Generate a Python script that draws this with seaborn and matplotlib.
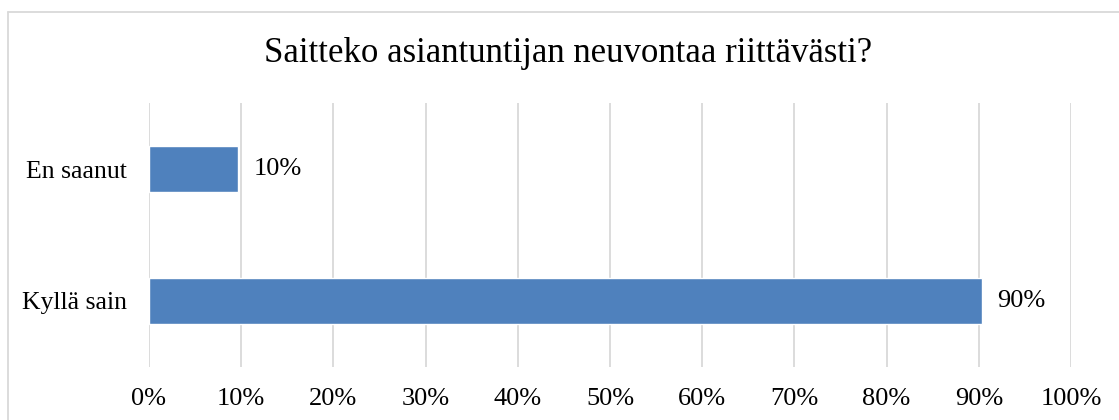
import seaborn as sns
import pandas as pd
import matplotlib.pyplot as plt
from matplotlib.lines import Line2D

# data
categories = ["En saanut", "Kyllä sain"]
shares = [9.65, 90.35]
bar_labels = ["10%", "90%"]
title = "Saitteko asiantuntijan neuvontaa riittävästi?"

W, H = 1119, 420
df = pd.DataFrame({"kategoria": categories, "osuus": shares})

sns.set_style("white")
plt.rcParams["font.family"] = ["Liberation Serif", "DejaVu Serif"]
plt.rcParams["text.color"] = "black"
plt.rcParams["xtick.color"] = "black"
plt.rcParams["ytick.color"] = "black"

fig = plt.figure(figsize=(W / 100, H / 100), dpi=100)
ax = fig.add_axes([149 / W, 1 - 367 / H, (1071 - 149) / W, (367 - 103) / H])

sns.barplot(data=df, x="osuus", y="kategoria", orient="h", color="#4F81BD",
            saturation=1, width=0.355, ax=ax, zorder=3)

ax.set_xlim(0, 100)
ax.set_ylim(1.5, -0.5)
ax.set_xticks(range(0, 101, 10))
ax.set_xticklabels([f"{t}%" for t in range(0, 101, 10)], fontsize=19)
ax.tick_params(axis="y", labelsize=18.5, length=0, pad=16)
ax.tick_params(axis="x", length=0, pad=15)
ax.grid(axis="x", color="#D9D9D9", linewidth=1.3, zorder=0)
ax.set_xlabel("")
ax.set_ylabel("")
for s in ax.spines.values():
    s.set_visible(False)

for bar, lab in zip(ax.patches, bar_labels):
    ax.text(bar.get_width() + 1.65, bar.get_y() + bar.get_height() / 2, lab,
            va="center", ha="left", fontsize=19)

fig.text(568 / W, 1 - 54 / H, title, ha="center", va="center", fontsize=25)

# chart-area border (only top and left visible in the crop)
fig.add_artist(Line2D([8 / W, 8 / W], [0, 1 - 12 / H], transform=fig.transFigure,
                      color="#D9D9D9", linewidth=1.3))
fig.add_artist(Line2D([8 / W, 1], [1 - 12 / H, 1 - 12 / H], transform=fig.transFigure,
                      color="#D9D9D9", linewidth=1.3))

fig.savefig("out.png", dpi=100)
